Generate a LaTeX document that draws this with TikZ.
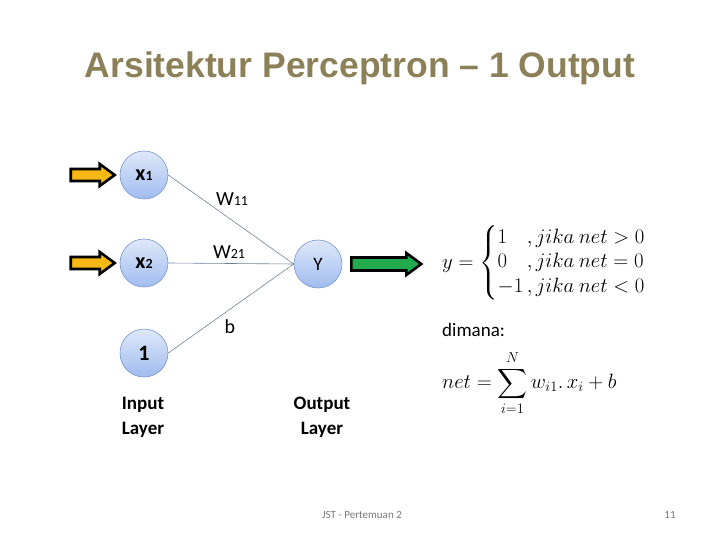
\documentclass[tikz,border=0pt]{standalone}
\usepackage{amsmath}
\usepackage{fontspec}
\setmainfont{Carlito}
\newfontfamily\titlefont{Liberation Sans}
\usetikzlibrary{positioning}
\definecolor{titlecol}{RGB}{140,128,88}
\definecolor{nodetop}{RGB}{222,232,250}
\definecolor{nodebot}{RGB}{160,188,238}
\definecolor{nodeedge}{RGB}{120,150,205}
\definecolor{inyellow}{RGB}{246,184,20}
\definecolor{outgreen}{RGB}{34,170,76}
\definecolor{wirecol}{RGB}{110,130,150}
\definecolor{footgray}{RGB}{120,120,120}
\tikzset{
  neuron/.style={circle, draw=nodeedge, line width=0.6pt, top color=nodetop, bottom color=nodebot, minimum size=48pt, inner sep=0pt, font=\fontsize{22}{24}\selectfont\bfseries},
  wire/.style={draw=wirecol, line width=0.6pt},
  wlabel/.style={font=\fontsize{20}{22}\selectfont},
  layerlabel/.style={align=center, font=\fontsize{19}{25}\selectfont\bfseries},
  blockarrow/.style={draw=black, line width=2.6pt, line join=miter},
}
\begin{document}
\begin{tikzpicture}[x=1pt,y=-1pt]
\useasboundingbox (0,0) rectangle (720,540);
% title
\node[font=\titlefont\fontsize{35.5}{38}\selectfont\bfseries, text=titlecol] (title) at (360,68) {Arsitektur Perceptron – 1 Output};
% neurons
\node[neuron] (x1) at (144,175) {x{\fontsize{14}{14}\selectfont 1}};
\node[neuron] (x2) at (144,263) {x{\fontsize{14}{14}\selectfont 2}};
\node[neuron] (one) at (144,353) {1};
\node[neuron] (y) at (318,264) {\mdseries\fontsize{19}{20}\selectfont Y};
% wires
\draw[wire] (x1.east) -- (y.west);
\draw[wire] (x2.east) -- (y.west);
\draw[wire] (one.east) -- (y.west);
% weight labels
\node[wlabel] (w11) at (232,199) {W{\fontsize{14}{14}\selectfont 11}};
\node[wlabel] (w21) at (229,252) {W{\fontsize{14}{14}\selectfont 21}};
\node[wlabel] (b) at (230,327) {b};
% layer labels
\node[layerlabel] (inlab) at (143,417) {Input\\Layer};
\node[layerlabel] (outlab) at (322,417) {Output\\Layer};
% input arrows
\foreach \n in {x1,x2}{
  \coordinate (tip\n) at ([xshift=-5pt]\n.west);
  \draw[blockarrow, fill=inyellow]
    ([xshift=-44pt,yshift=-6pt]tip\n) -- ([xshift=-15pt,yshift=-6pt]tip\n) -- ([xshift=-15pt,yshift=-11pt]tip\n)
    -- (tip\n) -- ([xshift=-15pt,yshift=11pt]tip\n) -- ([xshift=-15pt,yshift=6pt]tip\n)
    -- ([xshift=-44pt,yshift=6pt]tip\n) -- cycle;
}
% output arrow
\coordinate (ostart) at ([xshift=9pt]y.east);
\coordinate (otip) at ([xshift=79pt]y.east);
\draw[blockarrow, fill=outgreen]
  ([yshift=-6.5pt]ostart) -- ([xshift=-15pt,yshift=-6.5pt]otip) -- ([xshift=-15pt,yshift=-11pt]otip)
  -- (otip) -- ([xshift=-15pt,yshift=11pt]otip) -- ([xshift=-15pt,yshift=6.5pt]otip)
  -- ([yshift=6.5pt]ostart) -- cycle;
% formulas
\node[anchor=west, font=\fontsize{19.6}{24.5}\selectfont, inner sep=0pt] (yform) at (442,263)
  {$y=\left\{\begin{array}{@{}l@{\,}l@{}}1 & ,jika\ net>0\\ 0 & ,jika\ net=0\\ -1 & ,jika\ net<0\end{array}\right.$};
\node[anchor=base west, font=\fontsize{19}{20}\selectfont, inner sep=0pt, text depth=0pt] (dimana) at (442,336) {dimana:};
\node[anchor=west, font=\fontsize{19.3}{22}\selectfont, inner sep=0pt] (netform) at (442,383)
  {$net=\displaystyle\sum_{i=1}^{N} w_{i1}.\,x_i+b$};
% footer
\node[font=\fontsize{11}{12}\selectfont, text=footgray] (foot) at (362,515) {JST - Pertemuan 2};
\node[font=\fontsize{11}{12}\selectfont, text=footgray] (page) at (670,515) {11};
\end{tikzpicture}
\end{document}
